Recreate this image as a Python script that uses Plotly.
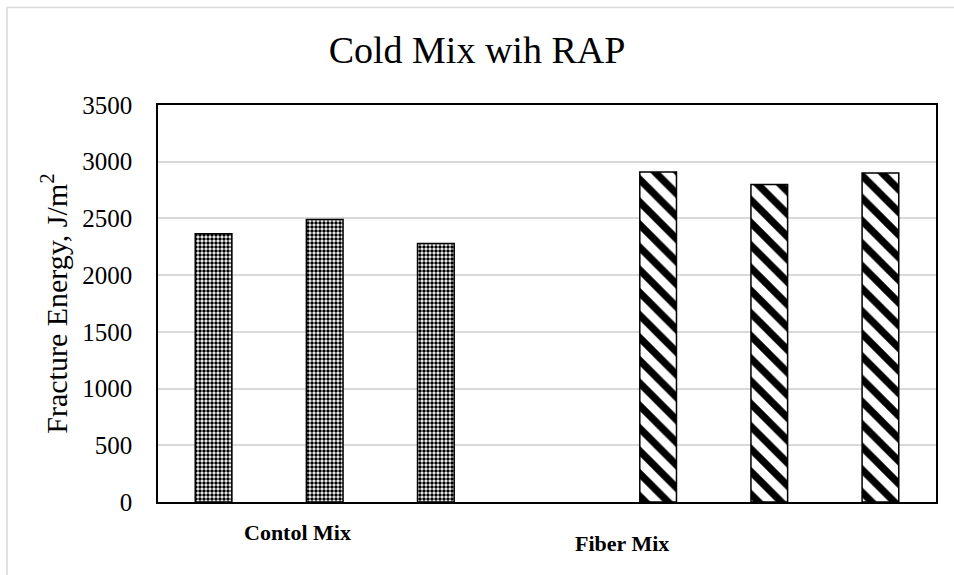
import plotly.graph_objects as go

title = "Cold Mix wih RAP"
y_title = "Fracture Energy, J/m<sup>2</sup>"
groups = ["Contol Mix", "Fiber Mix"]
control_values = [2365, 2490, 2280]
fiber_values = [2910, 2800, 2900]
control_pos = [0, 1, 2]
fiber_pos = [4, 5, 6]
y_ticks = [0, 500, 1000, 1500, 2000, 2500, 3000, 3500]

serif = "Liberation Serif, Times New Roman, serif"

fig = go.Figure()
fig.add_trace(go.Bar(
    x=control_pos, y=control_values, width=0.33,
    marker=dict(color="white", line=dict(color="black", width=1.5),
                pattern=dict(shape=".", fgcolor="black", bgcolor="white", fgopacity=1,
                             size=4, solidity=0.6, fillmode="replace")),
    showlegend=False, hoverinfo="y"))
fig.add_trace(go.Bar(
    x=fiber_pos, y=fiber_values, width=0.33,
    marker=dict(color="white", line=dict(color="black", width=1.5),
                pattern=dict(shape="\\", fgcolor="black", bgcolor="white", fgopacity=1,
                             size=16, solidity=0.45, fillmode="replace")),
    showlegend=False, hoverinfo="y"))

fig.update_layout(
    width=954, height=575,
    margin=dict(l=158, r=18, t=105, b=73),
    paper_bgcolor="white", plot_bgcolor="white",
    title=dict(text=title, x=0.5, xanchor="center", y=0.913, yanchor="middle",
               font=dict(family=serif, size=38, color="black")),
    font=dict(family=serif, color="black"),
    xaxis=dict(range=[-0.5, 6.5], showticklabels=False, ticks="",
               showgrid=False, zeroline=False,
               showline=True, linecolor="black", linewidth=1.5, mirror=True),
    yaxis=dict(range=[0, 3500], tickvals=y_ticks, tickfont=dict(family=serif, size=25),
               showgrid=True, gridcolor="#d9d9d9", gridwidth=1.5, zeroline=False,
               showline=True, linecolor="black", linewidth=1.5, mirror=True,
               ticks="", ticklen=0, ticklabelstandoff=19,
               title=dict(text=y_title, font=dict(family=serif, size=30), standoff=6)),
    shapes=[dict(type="rect", xref="paper", yref="paper",
                 x0=-0.194, x1=2, y0=-1, y1=1.2456,
                 line=dict(color="#d9d9d9", width=1.5), fillcolor="rgba(0,0,0,0)",
                 layer="below")],
    annotations=[
        dict(text="<b>" + groups[0] + "</b>", x=1, y=-0.076, xref="x", yref="paper",
             xanchor="center", yanchor="middle", showarrow=False, xshift=-27,
             font=dict(family=serif, size=22, color="black")),
        dict(text="<b>" + groups[1] + "</b>", x=5, y=-0.104, xref="x", yref="paper",
             xanchor="center", yanchor="middle", showarrow=False, xshift=-147,
             font=dict(family=serif, size=22, color="black")),
    ],
)

fig.write_html("out.html")
